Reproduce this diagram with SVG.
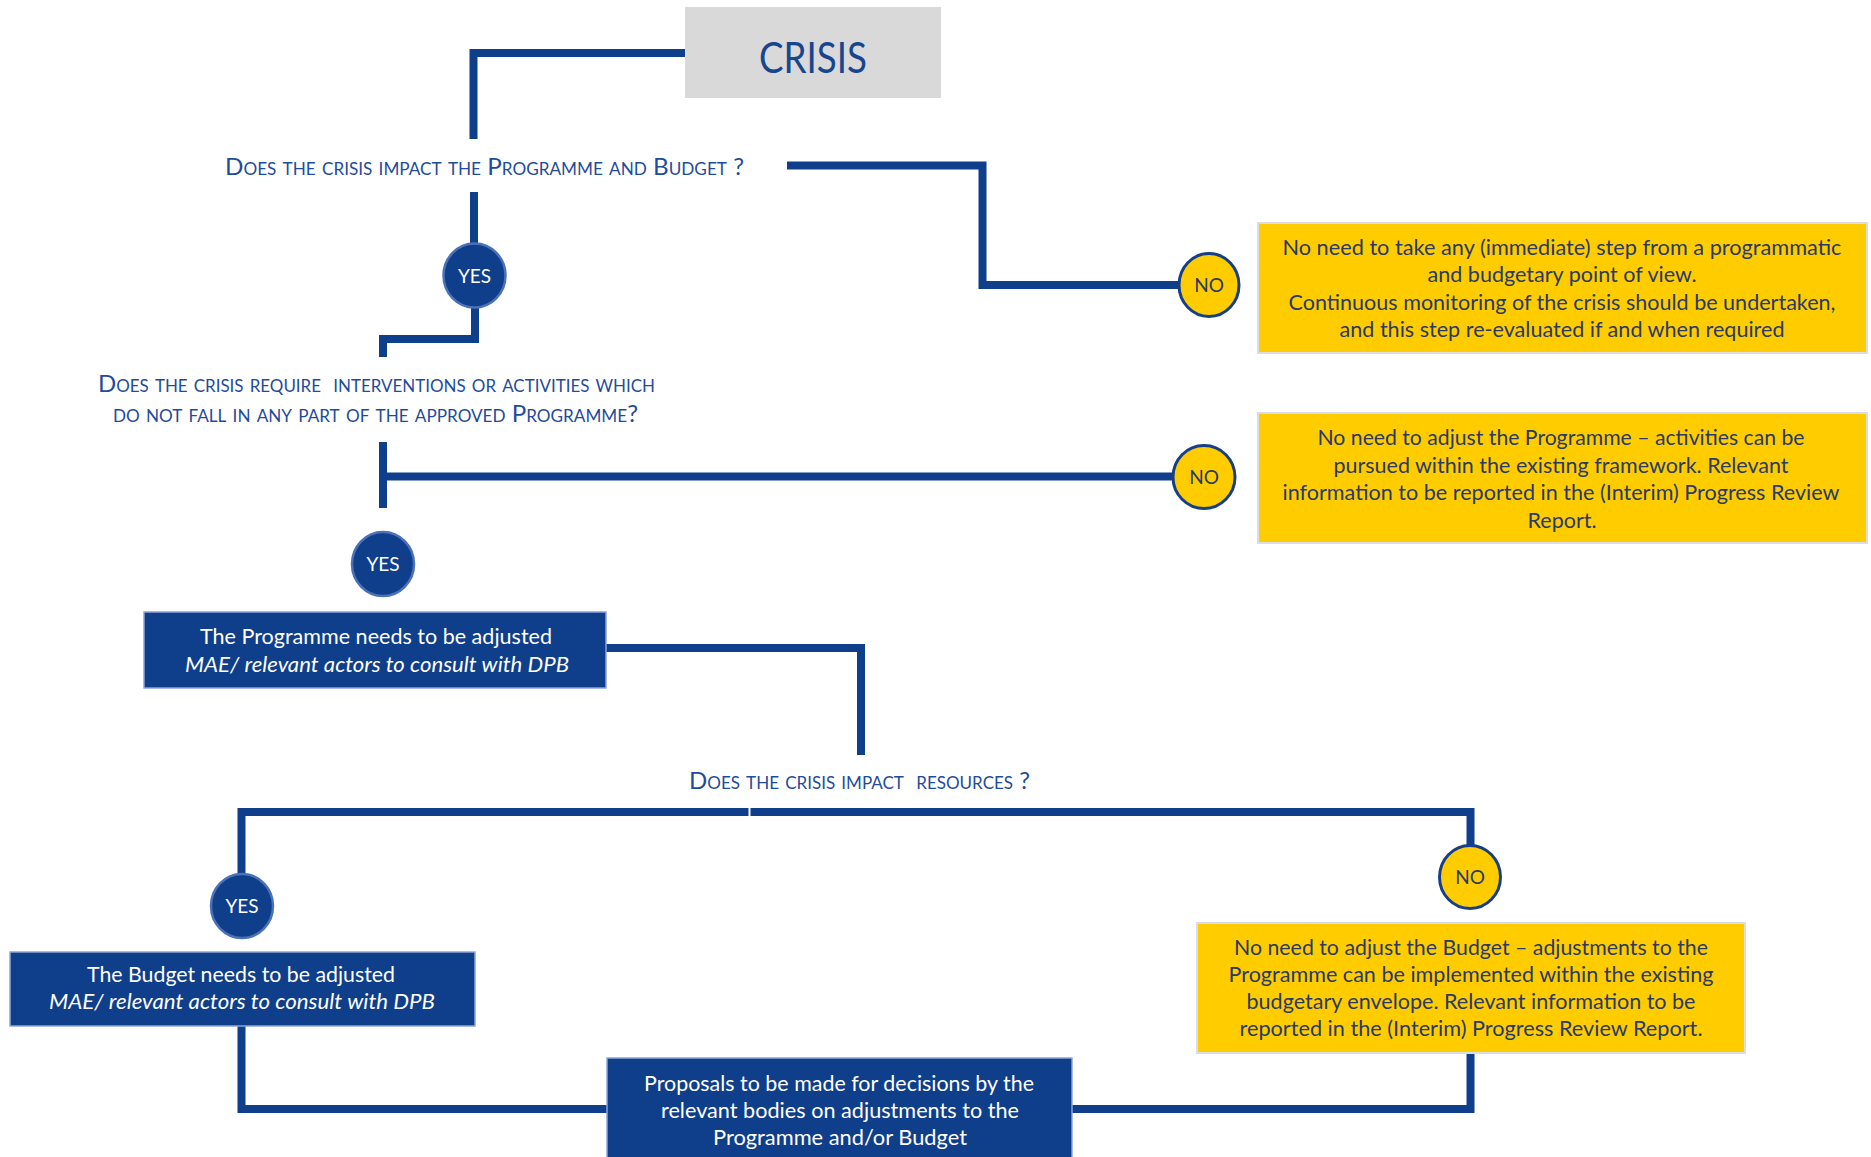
<svg xmlns="http://www.w3.org/2000/svg" width="1871" height="1157" viewBox="0 0 1871 1157">
  <style>
    .wire { fill: none; stroke: #0F3E8A; stroke-width: 8; stroke-linejoin: miter; stroke-linecap: butt; }
    .start { fill: #D9D9D9; }
    .start-label { font-family: Lato, "Liberation Sans", sans-serif; font-size: 42px; fill: #17468F; text-anchor: middle; }
    .question { font-family: Lato, "Liberation Sans", sans-serif; font-size: 24px; font-variant: small-caps; fill: #1F4C9A; text-anchor: middle; }
    .step { fill: #0F3E8A; stroke: #8EA6D6; stroke-width: 1.5; }
    .step-text { font-family: Lato, "Liberation Sans", sans-serif; font-size: 20.5px; fill: #FFFFFF; text-anchor: middle; }
    .note { fill: #FFCC00; stroke: #DADDE3; stroke-width: 2; }
    .note-text { font-family: Lato, "Liberation Sans", sans-serif; font-size: 20.5px; fill: #2B3A66; text-anchor: middle; }
    .yes { fill: #0F3E8A; stroke: #4C71B8; stroke-width: 2.5; }
    .yes-text { font-family: Lato, "Liberation Sans", sans-serif; font-size: 19px; fill: #FFFFFF; text-anchor: middle; }
    .no { fill: #FFCC00; stroke: #163F88; stroke-width: 3; }
    .no-text { font-family: Lato, "Liberation Sans", sans-serif; font-size: 19px; fill: #2B3A66; text-anchor: middle; }
  </style>

  <rect width="1871" height="1157" fill="#FFFFFF"/>

  <!-- connectors -->
  <g id="connectors">
    <path class="wire" d="M685 53 H473.5 V139"/>
    <path class="wire" d="M474 192 V245"/>
    <path class="wire" d="M475 307 V339 H383 V357"/>
    <path class="wire" d="M787 165.5 H982.5 V285 H1179"/>
    <path class="wire" d="M383 442 V508"/>
    <path class="wire" d="M383 476.5 H1173"/>
    <path class="wire" d="M606 648 H861 V755"/>
    <path class="wire" d="M241.5 874 V812 H748.5"/>
    <path class="wire" d="M750.5 812 H1470.5 V846"/>
    <path class="wire" d="M241.5 1026 V1109 H608"/>
    <path class="wire" d="M1071 1109 H1470.5 V1053"/>
  </g>

  <!-- start -->
  <g id="crisis">
    <rect class="start" x="685" y="7" width="256" height="91"/>
    <text class="start-label" x="813" y="73" textLength="108" lengthAdjust="spacingAndGlyphs">CRISIS</text>
  </g>

  <!-- questions -->
  <g id="q-programme-budget">
    <text class="question" x="484.5" y="175" textLength="519" lengthAdjust="spacingAndGlyphs">Does the crisis impact the Programme and Budget ?</text>
  </g>
  <g id="q-interventions">
    <text class="question" x="376.5" y="392" textLength="557" lengthAdjust="spacingAndGlyphs" xml:space="preserve">Does the crisis require  interventions or activities which</text>
    <text class="question" x="375.5" y="422" textLength="525" lengthAdjust="spacingAndGlyphs">do not fall in any part of the approved Programme?</text>
  </g>
  <g id="q-resources">
    <text class="question" x="859.5" y="789" textLength="341" lengthAdjust="spacingAndGlyphs" xml:space="preserve">Does the crisis impact  resources ?</text>
  </g>

  <!-- answers -->
  <g id="yes-1">
    <ellipse class="yes" cx="474.5" cy="275.5" rx="31" ry="32"/>
    <text class="yes-text" x="474.5" y="282.5">YES</text>
  </g>
  <g id="no-1">
    <ellipse class="no" cx="1209" cy="285" rx="30" ry="31.5"/>
    <text class="no-text" x="1209" y="292">NO</text>
  </g>
  <g id="yes-2">
    <ellipse class="yes" cx="383" cy="564" rx="31" ry="32"/>
    <text class="yes-text" x="383" y="571">YES</text>
  </g>
  <g id="no-2">
    <ellipse class="no" cx="1204" cy="477" rx="31" ry="31.5"/>
    <text class="no-text" x="1204" y="484">NO</text>
  </g>
  <g id="yes-3">
    <ellipse class="yes" cx="242" cy="906" rx="31" ry="32"/>
    <text class="yes-text" x="242" y="913">YES</text>
  </g>
  <g id="no-3">
    <ellipse class="no" cx="1470" cy="877" rx="30.5" ry="31.5"/>
    <text class="no-text" x="1470" y="884">NO</text>
  </g>

  <!-- outcome notes -->
  <g id="note-no-impact">
    <rect class="note" x="1258" y="223" width="609" height="130"/>
    <text class="note-text" x="1562" y="255" textLength="559" lengthAdjust="spacingAndGlyphs">No need to take any (immediate) step from a programmatic</text>
    <text class="note-text" x="1562" y="282" textLength="269" lengthAdjust="spacingAndGlyphs">and budgetary point of view.</text>
    <text class="note-text" x="1562" y="310" textLength="547" lengthAdjust="spacingAndGlyphs">Continuous monitoring of the crisis should be undertaken,</text>
    <text class="note-text" x="1562" y="337" textLength="445" lengthAdjust="spacingAndGlyphs">and this step re-evaluated if and when required</text>
  </g>
  <g id="note-programme-ok">
    <rect class="note" x="1258" y="413" width="609" height="130"/>
    <text class="note-text" x="1561" y="445" textLength="487" lengthAdjust="spacingAndGlyphs">No need to adjust the Programme – activities can be</text>
    <text class="note-text" x="1561" y="473" textLength="455" lengthAdjust="spacingAndGlyphs">pursued within the existing framework. Relevant</text>
    <text class="note-text" x="1561" y="500" textLength="557" lengthAdjust="spacingAndGlyphs">information to be reported in the (Interim) Progress Review</text>
    <text class="note-text" x="1562" y="528" textLength="69" lengthAdjust="spacingAndGlyphs">Report.</text>
  </g>
  <g id="note-budget-ok">
    <rect class="note" x="1197" y="923" width="548" height="130"/>
    <text class="note-text" x="1471" y="955" textLength="474" lengthAdjust="spacingAndGlyphs">No need to adjust the Budget – adjustments to the</text>
    <text class="note-text" x="1471" y="982" textLength="485" lengthAdjust="spacingAndGlyphs">Programme can be implemented within the existing</text>
    <text class="note-text" x="1471" y="1009" textLength="449" lengthAdjust="spacingAndGlyphs">budgetary envelope. Relevant information to be</text>
    <text class="note-text" x="1471" y="1036" textLength="463" lengthAdjust="spacingAndGlyphs">reported in the (Interim) Progress Review Report.</text>
  </g>

  <!-- action steps -->
  <g id="step-programme">
    <rect class="step" x="144" y="612" width="462" height="76"/>
    <text class="step-text" x="376" y="644" textLength="352" lengthAdjust="spacingAndGlyphs">The Programme needs to be adjusted</text>
    <text class="step-text" x="377" y="672" textLength="384" lengthAdjust="spacingAndGlyphs" font-style="italic">MAE/ relevant actors to consult with DPB</text>
  </g>
  <g id="step-budget">
    <rect class="step" x="10" y="952" width="465" height="74"/>
    <text class="step-text" x="241" y="982" textLength="308" lengthAdjust="spacingAndGlyphs">The Budget needs to be adjusted</text>
    <text class="step-text" x="242" y="1009" textLength="386" lengthAdjust="spacingAndGlyphs" font-style="italic">MAE/ relevant actors to consult with DPB</text>
  </g>
  <g id="step-proposals">
    <rect class="step" x="607" y="1058" width="465" height="110"/>
    <text class="step-text" x="839" y="1091" textLength="390" lengthAdjust="spacingAndGlyphs">Proposals to be made for decisions by the</text>
    <text class="step-text" x="840" y="1118" textLength="358" lengthAdjust="spacingAndGlyphs">relevant bodies on adjustments to the</text>
    <text class="step-text" x="840" y="1145" textLength="254" lengthAdjust="spacingAndGlyphs">Programme and/or Budget</text>
  </g>
</svg>
